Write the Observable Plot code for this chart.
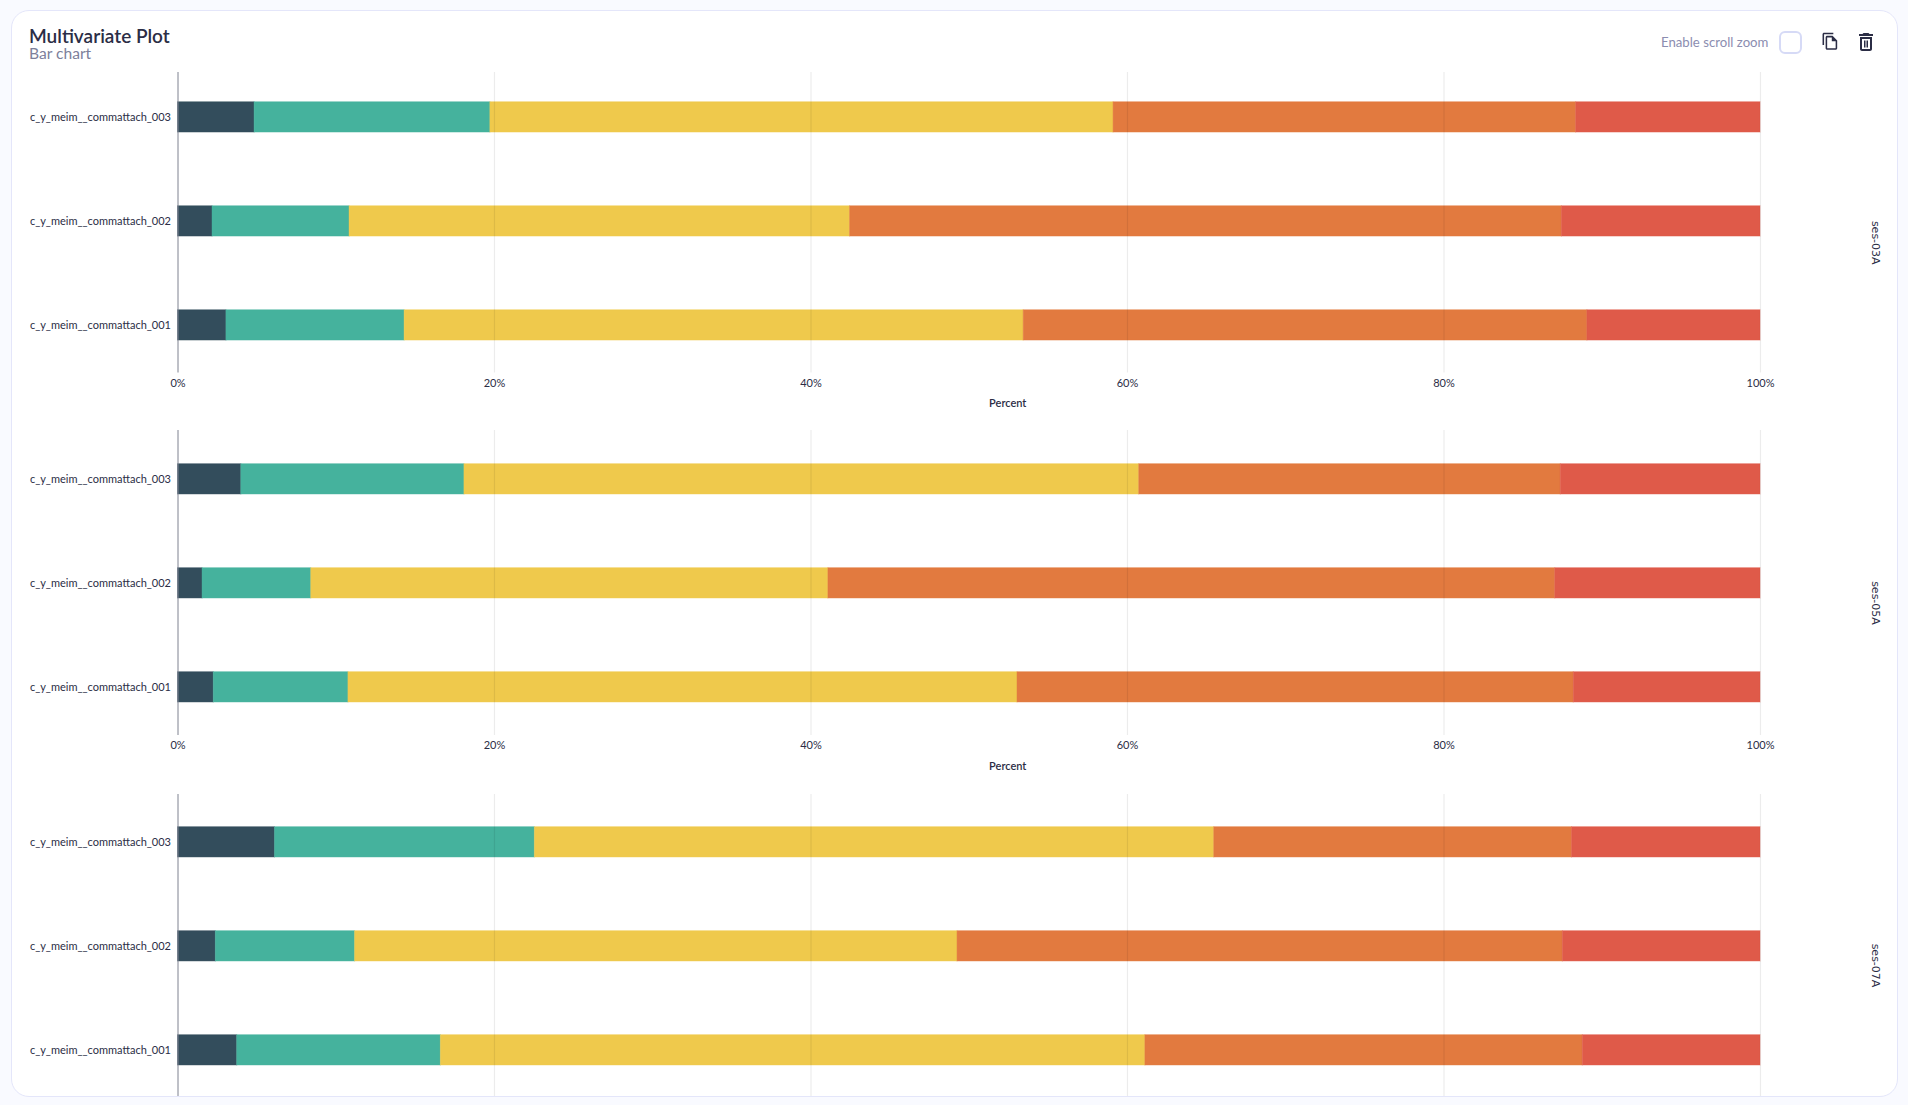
<!DOCTYPE html>
<html>
<head>
<meta charset="utf-8">
<script src="https://cdn.jsdelivr.net/npm/d3@7"></script>
<script src="https://cdn.jsdelivr.net/npm/@observablehq/plot@0.6"></script>
<style>
  html, body { margin: 0; padding: 0; width: 1908px; height: 1105px; overflow: hidden; background: #f9faff; font-family: Lato, "Open Sans", sans-serif; }
  #card { position: absolute; left: 10.5px; top: 9.5px; width: 1887px; height: 1087px; box-sizing: border-box; background: #fff; border: 1px solid #e4e6fa; border-radius: 18px; }
  #title { position: absolute; left: 29px; top: 23px; font: 600 19px/26px Lato, sans-serif; color: #2b2d45; }
  #subtitle { position: absolute; left: 29px; top: 44px; font: 400 15.6px/19px Lato, sans-serif; color: #7d7f9b; }
  #zoomlabel { position: absolute; left: 1661px; top: 33px; font: 400 13.2px/18px Lato, sans-serif; color: #8b8db0; }
  #check { position: absolute; left: 1778.5px; top: 30.5px; width: 23px; height: 23px; box-sizing: border-box; border: 2px solid #d6daf6; border-radius: 6px; background: #fff; }
  .icon { position: absolute; fill: #2b2d45; }
  .panel svg { display: block; }
</style>
</head>
<body>
<div id="card"></div>
<div id="title">Multivariate Plot</div>
<div id="subtitle">Bar chart</div>
<div id="zoomlabel">Enable scroll zoom</div>
<div id="check"></div>
<svg class="icon" style="left:1820.5px;top:32px;width:18.5px;height:18.5px" viewBox="0 0 24 24"><path d="M16 1H4c-1.1 0-2 .9-2 2v14h2V3h12V1zm-1 4H8c-1.1 0-1.99.9-1.99 2L6 21c0 1.1.89 2 1.99 2H19c1.1 0 2-.9 2-2V11l-6-6zM8 21V7h6v5h5v9H8z"/></svg>
<svg class="icon" style="left:1854px;top:30px;width:24px;height:24px" viewBox="0 0 24 24"><path d="M6 19c0 1.1.9 2 2 2h8c1.1 0 2-.9 2-2V7H6v12zM8 9h8v10H8V9zm7.5-5l-1-1h-5l-1 1H5v2h14V4zM10 10.5h1.5v7H10zM12.5 10.5H14v7h-1.5z"/></svg>
<div id="charts"></div>
<script>
const categories = ["c_y_meim__commattach_003", "c_y_meim__commattach_002", "c_y_meim__commattach_001"];
const seriesNames = ["Level 1", "Level 2", "Level 3", "Level 4", "Level 5"];
const seriesColors = ["#334d5c", "#45b29d", "#efc94c", "#e27a3f", "#df5a49"];
const percentTicks = [0, 20, 40, 60, 80, 100];

// one row per category, one value per series (percent)
const ses03A = [
  [4.84, 14.90, 39.38, 29.23, 11.65],
  [2.18, 8.66, 31.63, 44.98, 12.55],
  [3.06, 11.26, 39.12, 35.62, 10.94]
];
const ses05A = [
  [4.00, 14.10, 42.64, 26.64, 12.62],
  [1.55, 6.87, 32.68, 45.93, 12.97],
  [2.26, 8.51, 42.28, 35.15, 11.80]
];
const ses07A = [
  [6.13, 16.42, 42.93, 22.61, 11.91],
  [2.39, 8.80, 38.07, 38.25, 12.49],
  [3.74, 12.87, 44.52, 27.64, 11.23]
];

const panels = [
  {name: "ses-03A", values: ses03A, top: 72, h: 300.5, outer: 0.2990, align: 0.478, axis: true},
  {name: "ses-05A", values: ses05A, top: 430, h: 305, outer: 0.3207, align: 0.505, axis: true},
  {name: "ses-07A", values: ses07A, top: 794, h: 302, outer: 0.3062, align: 0.513, axis: false}
];

const fontStack = "Lato, sans-serif";
const holder = document.getElementById("charts");

for (const p of panels) {
  const rows = p.values.flatMap((vals, i) =>
    vals.map((value, j) => ({category: categories[i], series: seriesNames[j], value})));
  const marginBottom = p.axis ? 40 : 0;
  const chart = Plot.plot({
    width: 1908,
    height: p.h + marginBottom,
    marginLeft: 177.5,
    marginRight: 148,
    marginTop: 0,
    marginBottom,
    style: {background: "transparent", fontFamily: fontStack, fontSize: "11px", color: "#2b2d45", overflow: "visible"},
    x: {domain: [0, 100], label: null, axis: null},
    y: {domain: categories, label: null, axis: null, round: false, paddingInner: 0.7087, paddingOuter: p.outer, align: p.align},
    color: {domain: seriesNames, range: seriesColors},
    marks: [
      Plot.barX(rows, Plot.stackX({
        y: "category", x: "value", fill: "series", stroke: "series",
        strokeOpacity: 0.45, strokeWidth: 1
      })),
      Plot.ruleX(percentTicks.slice(1), {stroke: "#000", strokeOpacity: 0.075, strokeWidth: 1.2}),
      Plot.ruleX([0], {stroke: "#7f8290", strokeWidth: 1}),
      Plot.axisY({tickSize: 0, tickPadding: 7, dy: 0.3, fontSize: 11, label: null}),
      ...(p.axis ? [
        Plot.axisX({ticks: percentTicks, tickSize: 0, tickPadding: 6, tickFormat: d => d + "%", fontSize: 11, label: null}),
        Plot.text(["Percent"], {frameAnchor: "bottom", dx: 38.5, dy: 34, fontSize: 11, fontWeight: 600})
      ] : []),
      Plot.text([p.name], {frameAnchor: "right", textAnchor: "middle", dx: 115, dy: 20, rotate: 90, fontSize: 11, fontFamily: "DejaVu Sans"})
    ]
  });
  chart.classList.add("panel");
  chart.style.position = "absolute";
  chart.style.top = p.top + "px";
  chart.style.left = "0";
  holder.appendChild(chart);
}
</script>
</body>
</html>
